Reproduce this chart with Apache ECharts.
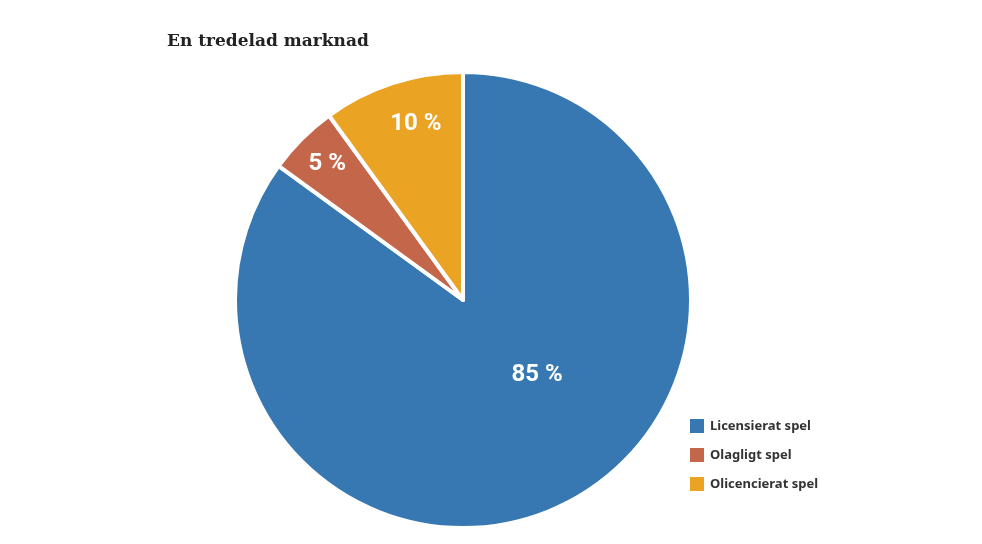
<!DOCTYPE html>
<html><head><meta charset="utf-8">
<script src="https://cdn.jsdelivr.net/npm/echarts@6/dist/echarts.min.js"></script>
<style>html,body{margin:0;background:#fff}#c{width:982px;height:544px}</style>
</head><body><div id="c"></div>
<script>
const categories = ["Licensierat spel", "Olagligt spel", "Olicencierat spel"];
const values = [85, 5, 10];
const colors = ["#3778b2", "#c4664a", "#eba323"];
const offsets = [[21, -29], [-53, -53], [-11, -65]];
const chart = echarts.init(document.getElementById('c'));
chart.setOption({
  title: { text: "En tredelad marknad", left: 162, top: 28,
    textStyle: { fontFamily: "DejaVu Serif", fontWeight: "bold", fontSize: 17, color: "#222" } },
  legend: { orient: "vertical", left: 683, top: 412, itemWidth: 16, itemHeight: 16, itemGap: 11,
    icon: "rect", textStyle: { fontFamily: "Noto Sans", fontWeight: "bold", fontSize: 13, color: "#333" } },
  series: [{
    type: "pie", center: [463, 300], radius: 228, startAngle: 90, clockwise: true,
    animation: false,
    itemStyle: { borderColor: "#fff", borderWidth: 4 },
    label: { position: "inside", formatter: "{c} %", color: "#fff", fontSize: 24,
      fontWeight: "bold", fontFamily: "Roboto" },
    emphasis: { disabled: true },
    data: categories.map((n, i) => ({ name: n, value: values[i],
      itemStyle: { color: colors[i] }, label: { offset: offsets[i] } }))
  }]
});
</script></body></html>
